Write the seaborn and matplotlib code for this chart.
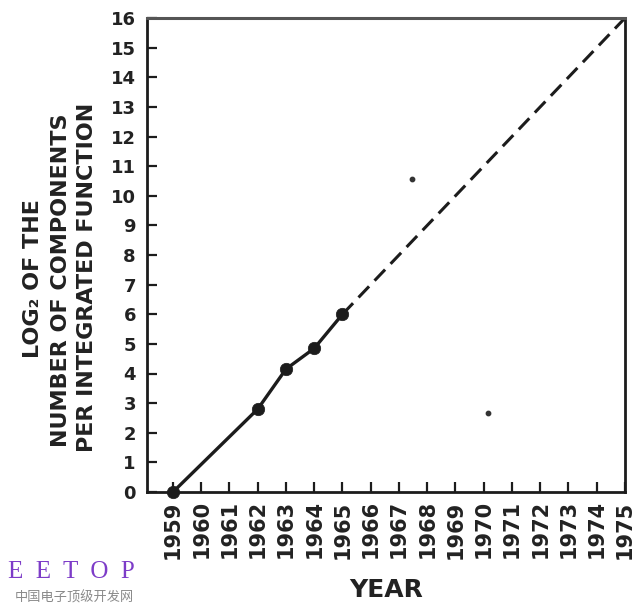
import numpy as np
import pandas as pd
import matplotlib
matplotlib.use("Agg")
import matplotlib.pyplot as plt
import seaborn as sns

# -----------------------------
# Data
# -----------------------------
years = [1959, 1962, 1963, 1964, 1965]
log2_components = [0, 2.8, 4.15, 4.85, 6.0]

extrap_years = [1965, 1975]
extrap_values = [6.0, 16.0]

# two stray specks in the scan
speck_years = [1967.45, 1970.15]
speck_values = [10.55, 2.65]

year_ticks = list(range(1959, 1976))
value_ticks = list(range(0, 17))

ink = "#1c1c1c"

sns.set_style("ticks")
plt.rcParams["font.family"] = ["DejaVu Sans"]

fig = plt.figure(figsize=(6.4, 6.1), dpi=100)
ax = fig.add_axes([147 / 640, 1 - 492 / 610, (625 - 147) / 640, (492 - 18) / 610])

measured = pd.DataFrame({"year": years, "value": log2_components})
projected = pd.DataFrame({"year": extrap_years, "value": extrap_values})

sns.lineplot(data=measured, x="year", y="value", ax=ax, color=ink, lw=2.4)
sns.lineplot(data=projected, x="year", y="value", ax=ax, color=ink, lw=2.2,
             linestyle=(0, (5, 2.6)))
sns.scatterplot(data=measured, x="year", y="value", ax=ax, color=ink, s=80,
                edgecolor=ink, linewidth=0.5, zorder=5, clip_on=False)
ax.scatter(speck_years, speck_values, s=10, color="#333333", zorder=4)

ax.set_xlim(1958.08, 1975)
ax.set_ylim(0, 16)
ax.set_xticks(year_ticks)
ax.set_xticklabels([str(y) for y in year_ticks], rotation=90, fontsize=15,
                   fontweight="bold", color="#222222")
ax.set_yticks(value_ticks)
ax.set_yticklabels([str(v) for v in value_ticks], fontsize=13,
                   fontweight="bold", color="#222222")
ax.tick_params(axis="both", direction="in", length=7, width=1.6, color=ink)
ax.tick_params(axis="x", pad=6)
ax.tick_params(axis="y", pad=8)
ax.set_xlabel("")
ax.set_ylabel("")

for side in ["left", "right", "bottom"]:
    ax.spines[side].set_visible(True)
    ax.spines[side].set_linewidth(2.0)
    ax.spines[side].set_color(ink)
ax.spines["top"].set_visible(True)
ax.spines["top"].set_linewidth(2.2)
ax.spines["top"].set_color("#555555")

# y axis title: three hand-lettered lines
ylab_lines = ["LOG\u2082 OF THE", "NUMBER OF COMPONENTS", "PER INTEGRATED FUNCTION"]
ylab_x = [33, 61, 87]
ylab_y = [279, 280, 277]
for line, xp, yp in zip(ylab_lines, ylab_x, ylab_y):
    fig.text(xp / 640, 1 - yp / 610, line, rotation=90, ha="center", va="center",
             fontsize=16, fontweight="bold", color="#222222")

fig.text(386 / 640, 1 - 590 / 610, "YEAR", ha="center", va="center",
         fontsize=18, fontweight="bold", color="#222222")

# watermark
fig.text(8 / 640, 1 - 572 / 610, "E  E  T  O  P", ha="left", va="center",
         fontsize=18, family=["Liberation Serif"], color="#7d3cc8")
fig.text(15 / 640, 1 - 598 / 610, "中国电子顶级开发网", ha="left", va="center",
         fontsize=9.5, family=["Noto Sans CJK SC", "DejaVu Sans"], color="#8a8a8a")

fig.savefig("out.png", dpi=100)
